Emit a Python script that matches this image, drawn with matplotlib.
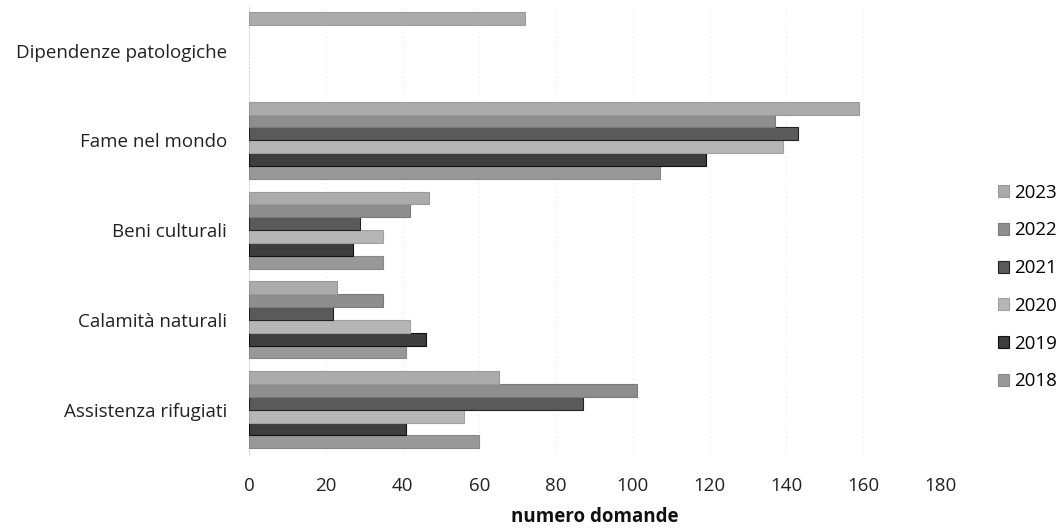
import matplotlib
matplotlib.use("Agg")
import matplotlib.pyplot as plt
import numpy as np

categories = ["Assistenza rifugiati", "Calamità naturali", "Beni culturali",
              "Fame nel mondo", "Dipendenze patologiche"]
years = ["2018", "2019", "2020", "2021", "2022", "2023"]
v2018 = [60, 41, 35, 107, 0]
v2019 = [41, 46, 27, 119, 0]
v2020 = [56, 42, 35, 139, 0]
v2021 = [87, 22, 29, 143, 0]
v2022 = [101, 35, 42, 137, 0]
v2023 = [65, 23, 47, 159, 72]
series = [v2018, v2019, v2020, v2021, v2022, v2023]
colors = ["#989898", "#3e3e3e", "#b6b6b6", "#5a5a5a", "#8e8e8e", "#ababab"]
edges = ["#888888", "#111111", "#a0a0a0", "#222222", "#7a7a7a", "#9a9a9a"]
xticks = [0, 20, 40, 60, 80, 100, 120, 140, 160, 180]

plt.rcParams['font.family'] = ['Open Sans', 'DejaVu Sans']
FS = 13.5

fig = plt.figure(figsize=(10.62, 5.28), dpi=100)
ax = fig.add_axes([249/1062, 1 - 454.6/528, (940-249)/1062, (454.6-5.6)/528])

n = len(series)
h = 1.0 / (n + 1)
y = np.arange(len(categories))
bars = []
for j, (vals, c, e) in enumerate(zip(series, colors, edges)):
    lw = [0.8 if v > 0 else 0 for v in vals]
    b = ax.barh(y + (j - (n - 1) / 2) * h, vals, height=h, color=c,
                edgecolor=e, linewidth=lw, label=years[j], zorder=3)
    bars.append(b)

ax.set_xlim(0, 180)
ax.set_ylim(-0.5, len(categories) - 0.5)
ax.set_xticks(xticks)
ax.set_yticks(y)
ax.set_yticklabels(categories)
ax.tick_params(axis='both', length=0, labelsize=FS, colors="#222222")
ax.tick_params(axis='x', pad=16)
ax.tick_params(axis='y', pad=16)
for s in ["top", "right", "bottom"]:
    ax.spines[s].set_visible(False)
ax.spines["left"].set_color("#d8d8d8")
ax.spines["left"].set_linestyle((0, (1, 2)))
ax.xaxis.grid(True, color="#e8e8e8", linestyle=(0, (1, 3)), linewidth=0.8, zorder=0)
ax.set_xlabel("numero domande", fontsize=FS, fontweight="bold", labelpad=9, color="#111111")

handles = bars[::-1]
labels = years[::-1]
fig.legend(handles, labels, loc="center left", bbox_to_anchor=(998/1062, 1 - 287/528),
           frameon=False, fontsize=FS, handlelength=0.6, handleheight=0.6,
           handletextpad=0.25, labelspacing=1.05, borderaxespad=0, borderpad=0)

fig.savefig("out.png", dpi=100)
